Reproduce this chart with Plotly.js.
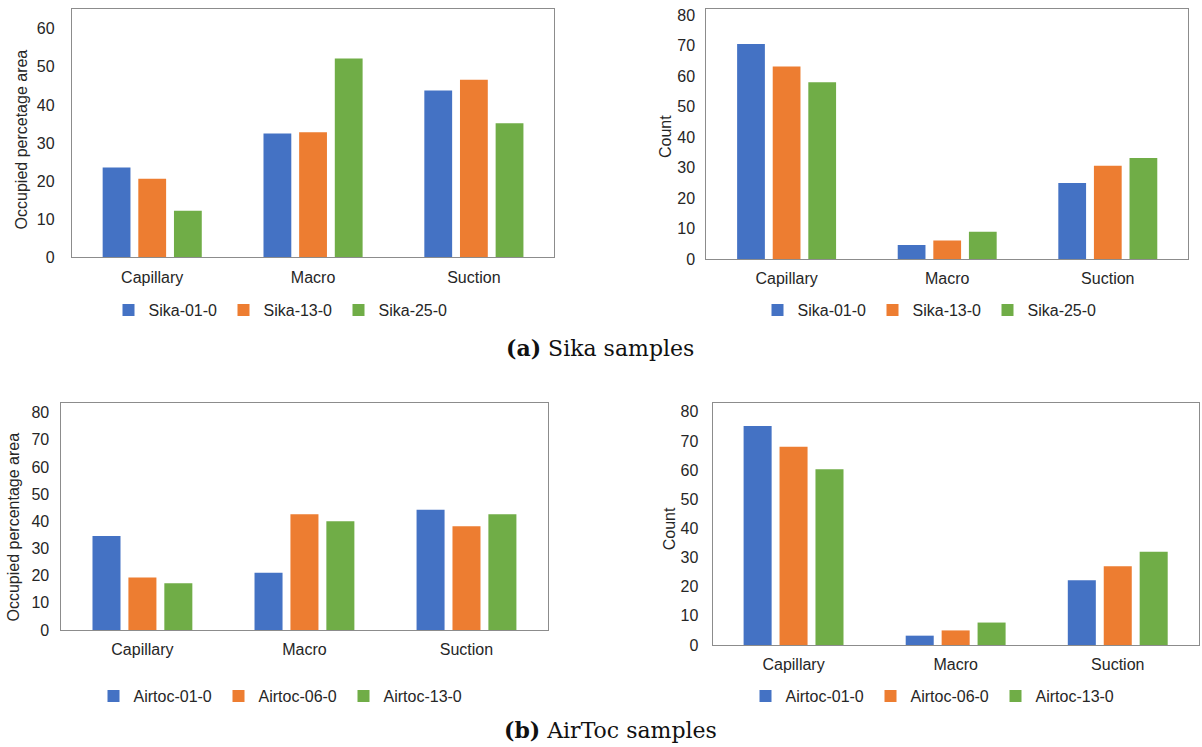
<!DOCTYPE html>
<html><head><meta charset="utf-8">
<script src="https://cdn.plot.ly/plotly-3.0.1.min.js"></script>
<style>html,body{margin:0;padding:0;background:#fff}</style>
</head><body><div id="chart" style="width:1202px;height:747px"></div>
<script>
const categories = ['Capillary', 'Macro', 'Suction'];
const sikaNames = ['Sika-01-0', 'Sika-13-0', 'Sika-25-0'];
const airtocNames = ['Airtoc-01-0', 'Airtoc-06-0', 'Airtoc-13-0'];

const sikaArea01 = [23.6, 32.5, 43.8];
const sikaArea13 = [20.6, 32.8, 46.6];
const sikaArea25 = [12.2, 52.2, 35.2];

const sikaCount01 = [70.5, 4.6, 24.9];
const sikaCount13 = [63.1, 6.1, 30.6];
const sikaCount25 = [58.0, 8.9, 33.1];

const airtocArea01 = [34.6, 21.1, 44.2];
const airtocArea06 = [19.3, 42.6, 38.2];
const airtocArea13 = [17.2, 40.0, 42.6];

const airtocCount01 = [75.1, 3.2, 22.2];
const airtocCount06 = [68.0, 5.0, 27.0];
const airtocCount13 = [60.3, 7.7, 32.0];

const ticks60 = [0, 10, 20, 30, 40, 50, 60];
const ticks80 = [0, 10, 20, 30, 40, 50, 60, 70, 80];

const colors = ['#4472C4', '#ED7D31', '#70AD47'];
const FONT = 'Liberation Sans, Arial, sans-serif';
const TXT = '#262626';

function panel(names, series, ax, legendId) {
  return series.map((vals, i) => ({
    type: 'bar', x: categories, y: vals, name: names[i],
    xaxis: 'x' + ax, yaxis: 'y' + ax, legend: legendId,
    marker: { color: colors[i] }, hoverinfo: 'y'
  }));
}

const data = [].concat(
  panel(sikaNames, [sikaArea01, sikaArea13, sikaArea25], '', 'legend'),
  panel(sikaNames, [sikaCount01, sikaCount13, sikaCount25], '2', 'legend2'),
  panel(airtocNames, [airtocArea01, airtocArea06, airtocArea13], '3', 'legend3'),
  panel(airtocNames, [airtocCount01, airtocCount06, airtocCount13], '4', 'legend4')
);

const W = 1202, H = 747;
const px = v => v / W;
const py = v => 1 - v / H;

function xa(l, r, anchor) {
  return { domain: [px(l), px(r)], anchor: anchor, showline: true, mirror: true,
    linecolor: '#8c8c8c', linewidth: 1, showgrid: false, zeroline: false, ticks: '',
    ticklabelstandoff: 5, tickfont: { family: FONT, size: 16, color: TXT }, fixedrange: true };
}
function ya(b, t, anchor, range, tv, standoff) {
  return { domain: [py(b), py(t)], anchor: anchor, range: range, tickvals: tv,
    showline: true, mirror: true, linecolor: '#8c8c8c', linewidth: 1, showgrid: false,
    zeroline: false, ticks: '', ticklabelstandoff: standoff,
    tickfont: { family: FONT, size: 16, color: TXT }, fixedrange: true };
}
function leg(xc, yc, ew) {
  return { orientation: 'h', x: px(xc), xanchor: 'center', y: py(yc), yanchor: 'middle',
    font: { family: FONT, size: 16, color: TXT }, bgcolor: 'rgba(0,0,0,0)',
    itemclick: false, itemdoubleclick: false, entrywidth: ew, entrywidthmode: 'pixels' };
}
function ytitle(text, xc, yc) {
  return { text: text, x: px(xc), y: py(yc), xref: 'paper', yref: 'paper',
    textangle: -90, showarrow: false, xanchor: 'center', yanchor: 'middle',
    font: { family: FONT, size: 16, color: TXT } };
}

const layout = {
  width: W, height: H, margin: { l: 0, r: 0, t: 0, b: 0 },
  paper_bgcolor: '#ffffff', plot_bgcolor: '#ffffff',
  barmode: 'group', bargap: 0.335, bargroupgap: 0.22, showlegend: true,
  xaxis: xa(71.8, 554.3, 'y'),
  yaxis: ya(257.3, 8.9, 'x', [0, 65.2], ticks60, 13),
  xaxis2: xa(706.3, 1188.1, 'y2'),
  yaxis2: ya(259, 9, 'x2', [0, 82.0], ticks80, 7),
  xaxis3: xa(61.4, 547.5, 'y3'),
  yaxis3: ya(630, 403.3, 'x3', [0, 83.4], ticks80, 8),
  xaxis4: xa(712.5, 1198.8, 'y4'),
  yaxis4: ya(645, 403.3, 'x4', [0, 82.9], ticks80, 10),
  legend: leg(281, 310, 70),
  legend2: leg(930, 310, 70),
  legend3: leg(281, 696, 80),
  legend4: leg(933, 696, 80),
  annotations: [
    ytitle('Occupied percetage area', 21.4, 139),
    ytitle('Count', 665.3, 136.7),
    ytitle('Occupied percentage area', 12.5, 527),
    ytitle('Count', 669, 528.3),
    { text: '<b>(a)</b> Sika samples', x: px(600), y: py(348), xref: 'paper', yref: 'paper',
      showarrow: false, xanchor: 'center', yanchor: 'middle',
      font: { family: 'DejaVu Serif, serif', size: 22, color: '#111' } },
    { text: '<b>(b)</b> AirToc samples', x: px(610), y: py(729.5), xref: 'paper', yref: 'paper',
      showarrow: false, xanchor: 'center', yanchor: 'middle',
      font: { family: 'DejaVu Serif, serif', size: 22, color: '#111' } }
  ]
};

Plotly.newPlot('chart', data, layout, { displayModeBar: false, staticPlot: true });
</script>
</body></html>
